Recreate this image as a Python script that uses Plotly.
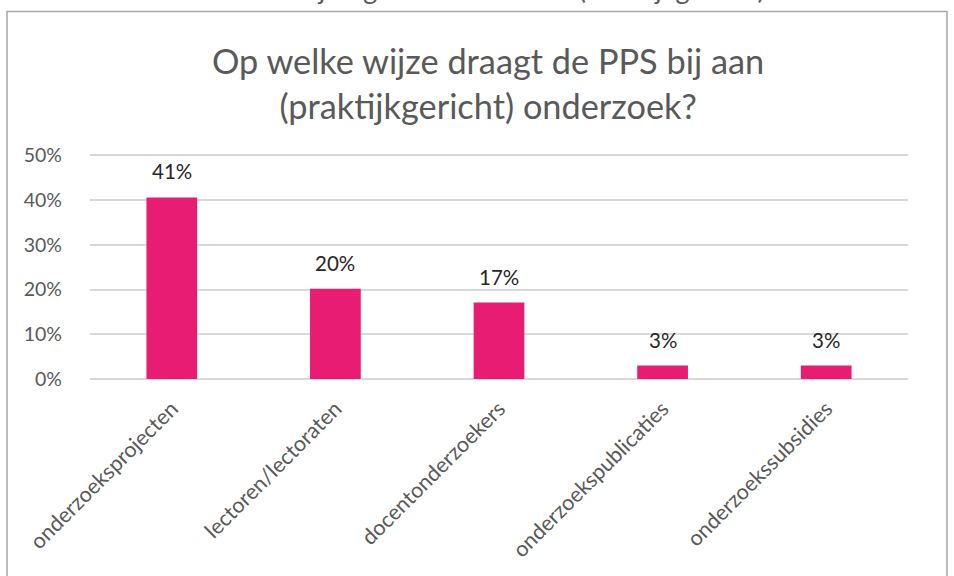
import plotly.graph_objects as go

categories = ["onderzoeksprojecten", "lectoren/lectoraten", "docentonderzoekers",
              "onderzoekspublicaties", "onderzoekssubsidies"]
values = [0.406, 0.202, 0.171, 0.030, 0.030]
y_ticks = [0, 0.1, 0.2, 0.3, 0.4, 0.5]
y_tick_labels = ["0%", "10%", "20%", "30%", "40%", "50%"]
title_text = "Op welke wijze draagt de PPS bij aan<br>(praktijkgericht) onderzoek?"
top_cut_text = "Bijdrage aan onderzoek (Praktijkgericht)"

FONT = "Lato, Open Sans, sans-serif"
W, H = 954, 576
ml, mr, mt, mb = 90, 46, 154, 197
Y_MAX = 0.503

fig = go.Figure()
fig.add_trace(go.Bar(
    x=categories, y=values,
    marker=dict(color="#E91C73", line=dict(width=0)),
    width=0.31, hoverinfo="x+y",
))

# data labels above the bars
for c, v in zip(categories, values):
    fig.add_annotation(
        x=c, y=v, xref="x", yref="y", text=f"{round(v * 100)}%",
        showarrow=False, xanchor="center", yanchor="middle", yshift=26,
        font=dict(family=FONT, size=20.5, color="#262626"),
    )

fig.update_layout(
    width=W, height=H,
    margin=dict(l=ml, r=mr, t=mt, b=mb, autoexpand=False),
    paper_bgcolor="white", plot_bgcolor="white",
    showlegend=False,
    font=dict(family=FONT, color="#595959"),
)
fig.update_xaxes(
    showgrid=False, showline=False, ticks="", tickangle=-45,
    tickfont=dict(size=21.5, color="#595959"),
    ticklabelstandoff=12,
)
fig.update_yaxes(
    range=[0, Y_MAX], tickvals=y_ticks, ticktext=y_tick_labels,
    showgrid=True, gridcolor="#D9D9D9", gridwidth=1.5,
    zeroline=True, zerolinecolor="#D9D9D9", zerolinewidth=1.5,
    showline=False, ticks="",
    tickfont=dict(size=19.5, color="#595959"),
    ticklabelstandoff=27,
)

ph = H - mt - mb
pw = W - ml - mr
def py(pix):
    return (H - mb - pix) / ph
def px(pix):
    return (pix - ml) / pw

# chart border
fig.add_shape(type="rect", xref="paper", yref="paper",
              x0=px(7), x1=px(947), y0=py(600), y1=py(11.5),
              line=dict(color="#A6A6A6", width=1.5), fillcolor="rgba(0,0,0,0)",
              layer="below")

# title
fig.add_annotation(
    text=title_text, xref="paper", yref="paper",
    x=px(488), y=py(82.5), xanchor="center", yanchor="middle",
    showarrow=False, align="center",
    font=dict(family=FONT, size=34.3, color="#595959"),
)

# partially visible text above the chart (cut off at the top of the image)
fig.add_annotation(
    text=top_cut_text, xref="paper", yref="paper",
    x=px(530), y=py(7), xanchor="center", yanchor="bottom",
    showarrow=False,
    font=dict(family=FONT, size=27, color="#595959"),
)

fig.write_html("out.html", config={"displayModeBar": False},
               post_script="document.body.style.margin='0';")
